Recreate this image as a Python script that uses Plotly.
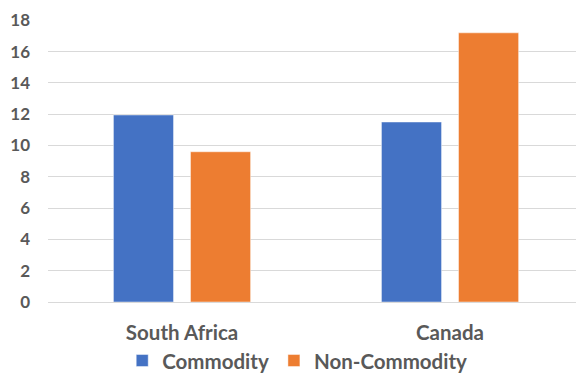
import plotly.graph_objects as go

# Data
countries = ["South Africa", "Canada"]
commodity = [11.95, 11.5]
non_commodity = [9.6, 17.2]
y_ticks = [0, 2, 4, 6, 8, 10, 12, 14, 16, 18]

BLUE = "#4472C4"
ORANGE = "#ED7D31"
TEXT = "#595959"
GRID = "#D9D9D9"
FONT = "Lato, 'Open Sans', sans-serif"

fig = go.Figure()
fig.add_trace(go.Bar(
    name="Commodity", x=countries, y=commodity,
    marker=dict(color=BLUE, line=dict(color="rgba(255,255,255,0.45)", width=1)),
))
fig.add_trace(go.Bar(
    name="Non-Commodity", x=countries, y=non_commodity,
    marker=dict(color=ORANGE, line=dict(color="rgba(255,255,255,0.45)", width=1)),
))

fig.update_layout(
    width=576, height=373,
    margin=dict(l=48, r=0, t=20, b=71, autoexpand=False),
    paper_bgcolor="white", plot_bgcolor="white",
    barmode="group", bargap=0.425, bargroupgap=0.22,
    font=dict(family=FONT, color=TEXT),
    showlegend=True,
    legend=dict(
        orientation="h", x=0.472, xanchor="center",
        yref="container", y=0.033, yanchor="middle",
        font=dict(family=FONT, size=20.5, color=TEXT, weight="bold"),
        itemwidth=30, tracegroupgap=0,
    ),
    xaxis=dict(
        range=[-0.5, 1.47], showgrid=False, showline=False, zeroline=False,
        ticks="", ticklabelstandoff=16,
        tickfont=dict(family=FONT, size=20.5, color=TEXT, weight="bold"),
    ),
    yaxis=dict(
        range=[0, 18.02], tickvals=y_ticks, showgrid=True, gridcolor=GRID,
        gridwidth=1, zeroline=True, zerolinecolor=GRID, zerolinewidth=1,
        showline=False, ticks="", ticklabelstandoff=17,
        tickfont=dict(family=FONT, size=17, color=TEXT, weight="bold"),
    ),
)

fig.write_html("out.html")
